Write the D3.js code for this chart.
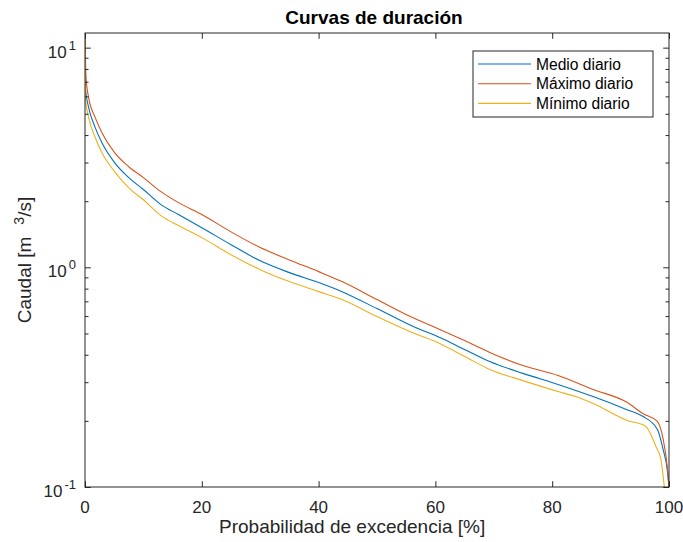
<!DOCTYPE html>
<meta charset="utf-8">
<script src="https://d3js.org/d3.v7.min.js"></script>
<style>
    body { margin: 0; background: #fff; }
    text { font-family: "Liberation Sans", Arial, Helvetica, sans-serif; fill: #262626; }
</style>
<div id="chart"></div>
<script>
    // exceedance probability [%] and flow [m3/s]
    var pMedio = [0, 0.1, 0.6, 1.7, 2.9, 5.1, 7.5, 10, 13, 16, 20, 25, 30, 35, 40, 44, 50, 57, 60, 65, 69.3, 75, 81, 87, 92.8, 95.5, 98, 99, 99.7, 100];
    var qMedio = [10.84, 6.42, 5.38, 4.36, 3.69, 2.99, 2.56, 2.26, 1.93, 1.74, 1.515, 1.268, 1.07, 0.946, 0.852, 0.775, 0.649, 0.526, 0.489, 0.423, 0.373, 0.329, 0.293, 0.258, 0.225, 0.21, 0.183, 0.148, 0.12, 0.1];

    var pMax = [0, 0.17, 0.6, 1.7, 2.9, 5.1, 7.5, 10, 13, 16, 20, 25, 30, 35, 40, 44, 50, 55.7, 60, 65, 69.3, 75, 81, 87, 92.8, 95.5, 98, 99, 99.7, 100];
    var qMax = [11.66, 7.36, 5.97, 4.84, 4.1, 3.32, 2.87, 2.56, 2.21, 1.97, 1.74, 1.45, 1.23, 1.08, 0.956, 0.861, 0.713, 0.597, 0.532, 0.464, 0.41, 0.357, 0.322, 0.278, 0.243, 0.216, 0.199, 0.165, 0.124, 0.1];

    var pMin = [0, 0.1, 0.6, 1.7, 2.9, 5.1, 7.5, 10, 13, 16, 20, 25, 30, 35, 40, 44, 50, 56, 60, 65, 69.3, 75, 81, 84, 87, 92.8, 96, 97.8, 98.6, 99.2];
    var qMin = [10.29, 5.78, 4.84, 3.93, 3.32, 2.72, 2.3, 2.03, 1.72, 1.55, 1.365, 1.142, 0.976, 0.861, 0.775, 0.713, 0.597, 0.505, 0.459, 0.393, 0.343, 0.305, 0.272, 0.258, 0.24, 0.201, 0.189, 0.152, 0.134, 0.099];

    var xTicks = [0, 20, 40, 60, 80, 100];
    var yMajor = [0.1, 1, 10];
    var yExp = ["-1", "0", "1"];

    var width = 683, height = 542;
    var mLeft = 85, mRight = 669, mTop = 33, mBottom = 487;
    var axisColor = "#262626";

    var xScale = d3.scaleLinear().domain([0, 100]).range([mLeft, mRight]);
    var yScale = d3.scaleLog().domain([0.1, 11.66]).range([mBottom, mTop]);

    var svg = d3.select("#chart")
        .append("svg")
        .attr("width", width)
        .attr("height", height);

    svg.append("defs").append("clipPath").attr("id", "clip")
        .append("rect")
        .attr("x", mLeft).attr("y", mTop)
        .attr("width", mRight - mLeft).attr("height", mBottom - mTop);

    // series
    var series = [
        { name: "Medio diario", p: pMedio, q: qMedio, color: "#0072BD" },
        { name: "Máximo diario", p: pMax, q: qMax, color: "#D95319" },
        { name: "Mínimo diario", p: pMin, q: qMin, color: "#EDB120" }
    ];

    var line = d3.line()
        .curve(d3.curveMonotoneX)
        .x(function (d) { return xScale(d[0]) })
        .y(function (d) { return yScale(Math.max(d[1], 0.0999)) });

    var plot = svg.append("g").attr("clip-path", "url(#clip)");
    series.forEach(function (s) {
        plot.append("path")
            .datum(s.p.map(function (p, i) { return [p, s.q[i]] }))
            .attr("fill", "none")
            .attr("stroke", s.color)
            .attr("stroke-width", 1.1)
            .attr("d", line);
    });

    // axes (MATLAB style: ticks inside, box on)
    var xAxisB = d3.axisBottom(xScale).tickValues(xTicks).tickSizeInner(-5.8).tickSizeOuter(0).tickFormat("");
    var xAxisT = d3.axisTop(xScale).tickValues(xTicks).tickSizeInner(-5.8).tickSizeOuter(0).tickFormat("");

    var minor = [];
    [0.1, 1].forEach(function (b) {
        for (var k = 2; k <= 9; k++) minor.push(b * k);
    });
    var yAxisL = d3.axisLeft(yScale).tickValues(yMajor).tickSizeInner(-5.8).tickSizeOuter(0).tickFormat("");
    var yAxisR = d3.axisRight(yScale).tickValues(yMajor).tickSizeInner(-5.8).tickSizeOuter(0).tickFormat("");
    var yMinL = d3.axisLeft(yScale).tickValues(minor).tickSizeInner(-3.5).tickSizeOuter(0).tickFormat("");
    var yMinR = d3.axisRight(yScale).tickValues(minor).tickSizeInner(-3.5).tickSizeOuter(0).tickFormat("");

    svg.append("g").attr("transform", `translate(0,${mBottom})`).call(xAxisB);
    svg.append("g").attr("transform", `translate(0,${mTop})`).call(xAxisT);
    svg.append("g").attr("transform", `translate(${mLeft},0)`).call(yAxisL);
    svg.append("g").attr("transform", `translate(${mRight},0)`).call(yAxisR);
    svg.append("g").attr("transform", `translate(${mLeft},0)`).call(yMinL);
    svg.append("g").attr("transform", `translate(${mRight},0)`).call(yMinR);

    svg.selectAll(".domain").remove();
    svg.selectAll(".tick line").attr("stroke", axisColor).attr("stroke-width", 1);

    svg.append("rect")
        .attr("x", mLeft).attr("y", mTop)
        .attr("width", mRight - mLeft).attr("height", mBottom - mTop)
        .attr("fill", "none")
        .attr("stroke", axisColor)
        .attr("stroke-width", 1);

    // tick labels
    svg.selectAll(".xlab")
        .data(xTicks)
        .enter()
        .append("text")
        .attr("x", function (d) { return xScale(d) })
        .attr("y", mBottom + 26)
        .attr("text-anchor", "middle")
        .style("font-size", "17px")
        .text(function (d) { return d });

    var ylab = svg.selectAll(".ylab")
        .data(yMajor)
        .enter()
        .append("text")
        .attr("x", mLeft - 9)
        .attr("y", function (d) { return yScale(d) + 10 })
        .attr("text-anchor", "end")
        .style("font-size", "17px");
    ylab.append("tspan").text("10");
    ylab.append("tspan")
        .attr("dx", 2)
        .attr("dy", -8)
        .style("font-size", "13px")
        .text(function (d, i) { return yExp[i] });

    // title and axis labels
    svg.append("text")
        .attr("x", (mLeft + mRight) / 2 - 3)
        .attr("y", 24)
        .attr("text-anchor", "middle")
        .style("font-size", "19px")
        .style("font-weight", "bold")
        .style("fill", "#000")
        .text("Curvas de duración");

    svg.append("text")
        .attr("x", 219)
        .attr("y", 533)
        .attr("text-anchor", "start")
        .style("font-size", "19px")
        .text("Probabilidad de excedencia [%]");

    var yTitle = svg.append("text")
        .attr("transform", `translate(31,${(mTop + mBottom) / 2}) rotate(-90)`)
        .attr("text-anchor", "middle")
        .style("font-size", "19px");
    yTitle.append("tspan").text("Caudal [m");
    yTitle.append("tspan").attr("dx", 12).attr("dy", -7).style("font-size", "14px").text("3");
    yTitle.append("tspan").attr("dy", 7).text("/s]");

    // legend
    var lg = svg.append("g");
    lg.append("rect")
        .attr("x", 473).attr("y", 51)
        .attr("width", 180).attr("height", 66)
        .attr("fill", "#fff")
        .attr("stroke", axisColor)
        .attr("stroke-width", 1);
    series.forEach(function (s, i) {
        var cy = 64 + i * 19.7;
        lg.append("line")
            .attr("x1", 478).attr("x2", 531)
            .attr("y1", cy).attr("y2", cy)
            .attr("stroke", s.color)
            .attr("stroke-width", 1.1);
        lg.append("text")
            .attr("x", 536)
            .attr("y", cy + 5.5)
            .style("font-size", "15.6px")
            .style("fill", "#000")
            .text(s.name);
    });
</script>
